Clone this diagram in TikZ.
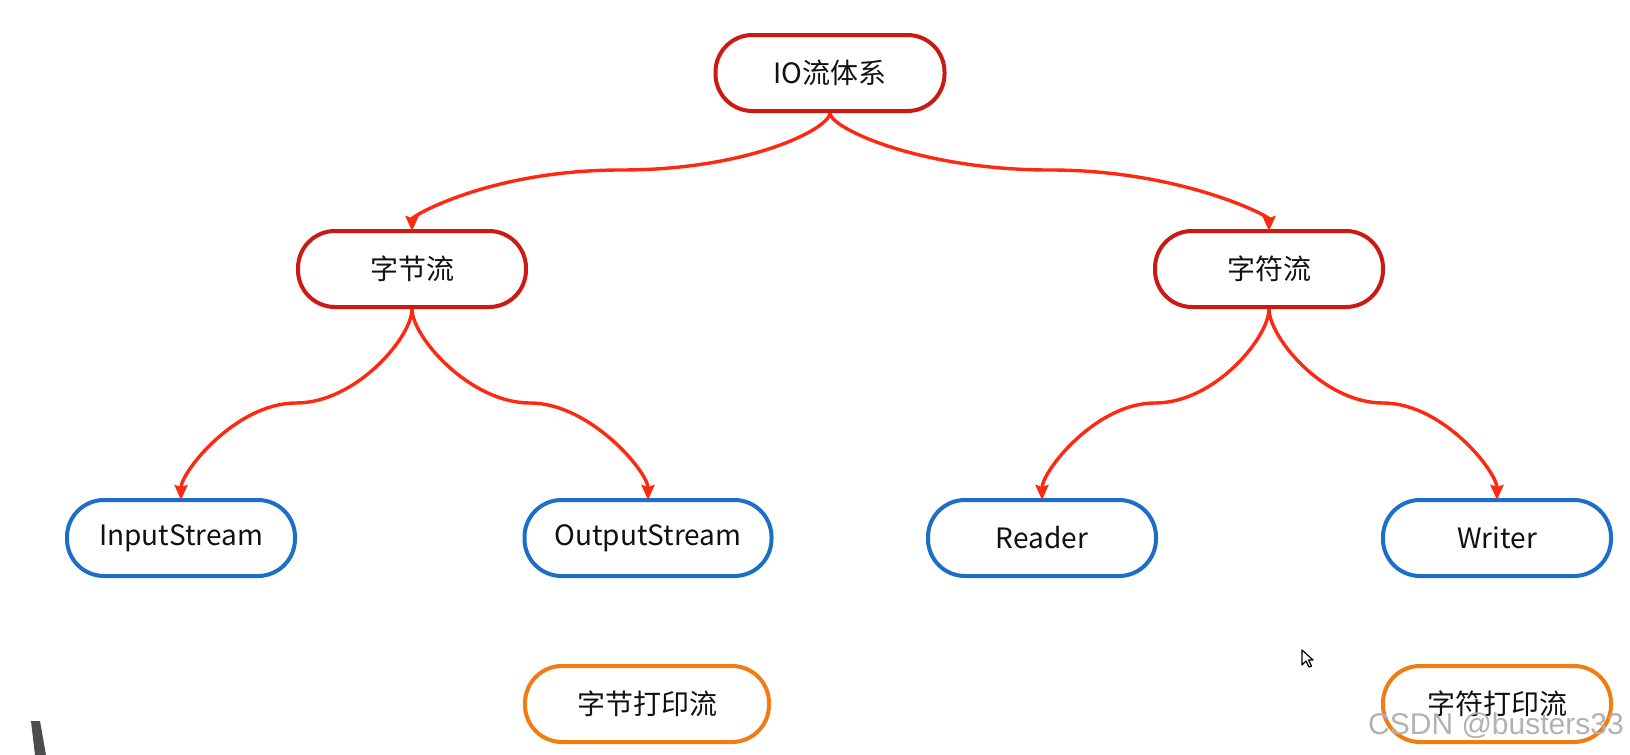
\documentclass[tikz,border=0pt]{standalone}
\usepackage{fontspec}
\newfontfamily\cjk{Noto Sans CJK SC}
\setsansfont{Liberation Sans}
\usetikzlibrary{arrows.meta}
\definecolor{boxred}{HTML}{CC1A12}
\definecolor{linered}{HTML}{FF2810}
\definecolor{boxblue}{HTML}{1C6FC6}
\definecolor{boxorange}{HTML}{F27C12}
\definecolor{txt}{HTML}{111111}
\tikzset{
  pill/.style={draw, line width=2pt, rounded corners=18.5pt, minimum height=38pt,
    minimum width=114pt, fill=white, text=txt, font=\cjk\fontsize{14}{16}\selectfont, inner sep=0pt},
  redpill/.style={pill, draw=boxred},
  bluepill/.style={pill, draw=boxblue},
  orangepill/.style={pill, draw=boxorange},
  conn/.style={draw=linered, line width=1.7pt, -{Stealth[length=7.5pt,width=6.5pt,inset=1pt]}},
}
\begin{document}
\begin{tikzpicture}[x=0.5pt,y=-0.5pt]
\useasboundingbox (0,0) rectangle (1630,755);
\fill[white] (0,0) rectangle (1630,755);
% nodes
\node[redpill, minimum width=114.5pt] (io) at (830,73) {IO流体系};
\node[redpill] (byte) at (412,269) {字节流};
\node[redpill] (char) at (1269,269) {字符流};
\node[bluepill] (in) at (181,538) {InputStream};
\node[bluepill, minimum width=123.5pt] (out) at (648,538) {OutputStream};
\node[bluepill] (reader) at (1042,538) {Reader};
\node[bluepill] (writer) at (1497,538) {Writer};
\node[orangepill, minimum width=122pt] (bprint) at (647,704) {字节打印流};
\node[orangepill] (cprint) at (1497,704) {字符打印流};
% mid coordinates
\coordinate (m1) at (621,170);
\coordinate (m2) at (1050,170);
\coordinate (m3) at (296,403);
\coordinate (m4) at (530,403);
\coordinate (m5) at (1155,403);
\coordinate (m6) at (1383,403);
% connectors
\draw[conn] (io.south) .. controls +(0,15) and +(130,0) .. (m1)
  .. controls +(-130,0) and +(0,-15) .. ([yshift=-1pt]byte.north);
\draw[conn] (io.south) .. controls +(0,15) and +(-130,0) .. (m2)
  .. controls +(130,0) and +(0,-15) .. ([yshift=-1pt]char.north);
\draw[conn] (byte.south) .. controls +(0,28) and +(60,0) .. (m3)
  .. controls +(-60,0) and +(0,-28) .. ([yshift=-1pt]in.north);
\draw[conn] (byte.south) .. controls +(0,28) and +(-60,0) .. (m4)
  .. controls +(60,0) and +(0,-28) .. ([yshift=-1pt]out.north);
\draw[conn] (char.south) .. controls +(0,28) and +(60,0) .. (m5)
  .. controls +(-60,0) and +(0,-28) .. ([yshift=-1pt]reader.north);
\draw[conn] (char.south) .. controls +(0,28) and +(-60,0) .. (m6)
  .. controls +(60,0) and +(0,-28) .. ([yshift=-1pt]writer.north);
% watermark
\node[text=gray!60, font=\sffamily\fontsize{15}{17}\selectfont, anchor=center] (wm) at (1496,726) {CSDN @busters33};
% cursor
\draw[black, line width=0.6pt, fill=white, line join=round]
  (1302,650) -- (1302,665) -- (1306,661) -- (1309,667) -- (1311.5,666) -- (1308.5,660) -- (1313,660) -- cycle;
% dark bar bottom left
\fill[black!70] (31,721) -- (40,721) -- (46,755) -- (35,755) -- cycle;
\end{tikzpicture}
\end{document}
